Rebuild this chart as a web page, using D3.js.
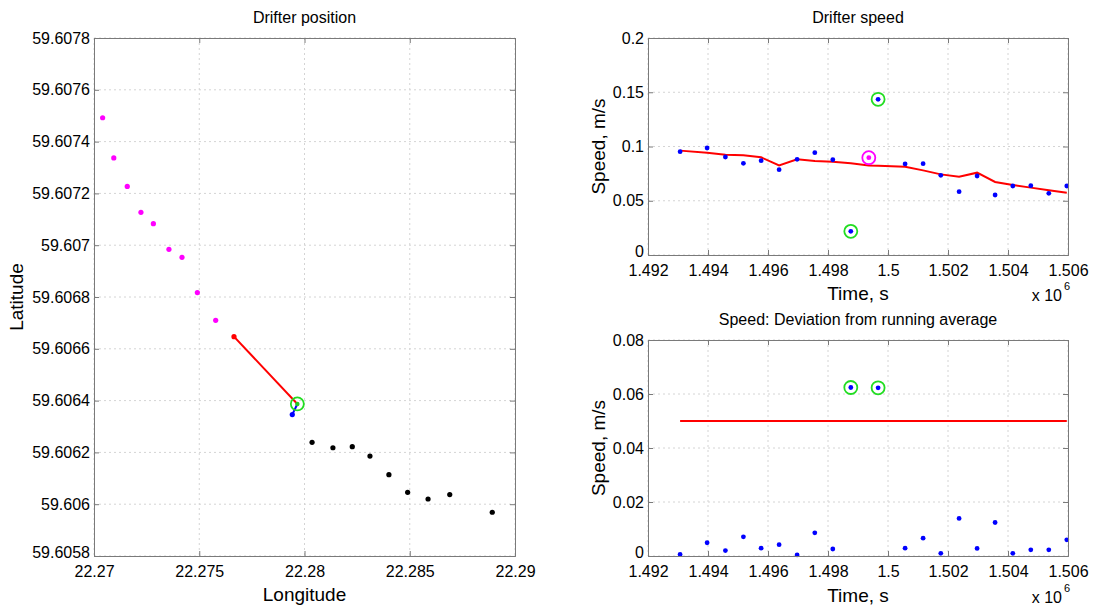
<!DOCTYPE html>
<html>
<head>
<meta charset="utf-8">
<script src="https://cdn.jsdelivr.net/npm/d3@7"></script>
<style>
  body { margin: 0; background: #fff; }
  svg { display: block; font-family: "Liberation Sans", Arial, sans-serif; }
  .tick text { font-size: 16px; fill: #000; }
</style>
</head>
<body>
<div id="chart"></div>
<script>
// ---- data ----
// drifter positions before the jump (magenta) and after it (black)
const prevLon = [22.27041, 22.27094, 22.27158, 22.27223, 22.27282, 22.27356, 22.27418, 22.27491, 22.27578];
const prevLat = [59.607492, 59.607337, 59.607227, 59.607127, 59.607083, 59.606984, 59.606953, 59.606817, 59.606710];
const nextLon = [22.28036, 22.28135, 22.28227, 22.28311, 22.28401, 22.28490, 22.28587, 22.28690, 22.28892];
const nextLat = [59.606239, 59.606218, 59.606222, 59.606186, 59.606114, 59.606046, 59.606020, 59.606037, 59.605969];
// red jump segment, flagged fix (green) and the blue fix next to it
const jumpLon = [22.27665, 22.27966];
const jumpLat = [59.606647, 59.606387];
const blueLon = [22.27966, 22.27942];
const blueLat = [59.606387, 59.606346];

// speed time series
const times = [1493070, 1493970, 1494580, 1495180, 1495770, 1496370, 1496970, 1497560, 1498160, 1498760, 1499360,
               1499670, 1500570, 1501170, 1501760, 1502370, 1502970, 1503570, 1504160, 1504760, 1505360, 1505960];
const speed = [0.0952, 0.0986, 0.0903, 0.0845, 0.0869, 0.0786, 0.0882, 0.0943, 0.0878, 0.0218, 0.0897,
               0.1435, 0.0839, 0.0842, 0.0734, 0.0584, 0.0728, 0.0553, 0.0636, 0.0639, 0.0568, 0.0636];
const runAvg = [0.0962, 0.0943, 0.0925, 0.0919, 0.0900, 0.0826, 0.0882, 0.0866, 0.0860, 0.0845, 0.0826,
                0.0822, 0.0814, 0.0780, 0.0743, 0.0722, 0.0759, 0.0673, 0.0645, 0.0621, 0.0596, 0.0574];
const flagged = [9, 11];   // green circles
const filled = [10];       // magenta circle

// deviation from running average
const devTimes = [1493070, 1493970, 1494580, 1495180, 1495770, 1496370, 1496970, 1497560, 1498160, 1498760,
                  1499670, 1500570, 1501170, 1501760, 1502370, 1502970, 1503570, 1504160, 1504760, 1505360, 1505960];
const deviation = [0.0006, 0.0049, 0.0020, 0.0071, 0.0029, 0.0042, 0.0004, 0.0086, 0.0026, 0.0624,
                   0.0623, 0.0029, 0.0066, 0.0010, 0.0139, 0.0028, 0.0124, 0.0010, 0.0023, 0.0023, 0.0060];
const devFlagged = [9, 10];
const threshold = 0.05;

// ticks
const lonTicks = [22.27, 22.275, 22.28, 22.285, 22.29];
const latTicks = [59.6058, 59.606, 59.6062, 59.6064, 59.6066, 59.6068, 59.607, 59.6072, 59.6074, 59.6076, 59.6078];
const timeTicks = [1492000, 1494000, 1496000, 1498000, 1500000, 1502000, 1504000, 1506000];
const speedTicks = [0, 0.05, 0.1, 0.15, 0.2];
const devTicks = [0, 0.02, 0.04, 0.06, 0.08];

const width = 1096;
const height = 606;
const axisColor = "#7a7a7a";
const gridColor = "#d4d4d4";

const svg = d3.select("#chart")
    .append("svg")
    .attr("width", width)
    .attr("height", height);

svg.append("rect").attr("width", width).attr("height", height).attr("fill", "#fff");

// draws grid, box and ticks of one MATLAB-style axes
const makeAxes = (box, xScale, yScale, xTicks, yTicks, xFmt, yFmt) => {
    const g = svg.append("g");
    const grid = g.append("g")
        .attr("stroke", gridColor)
        .attr("stroke-dasharray", "2,3")
        .attr("stroke-width", 1);
    xTicks.forEach(t => grid.append("line")
        .attr("x1", xScale(t)).attr("x2", xScale(t))
        .attr("y1", box.y0).attr("y2", box.y1));
    yTicks.forEach(t => grid.append("line")
        .attr("x1", box.x0).attr("x2", box.x1)
        .attr("y1", yScale(t)).attr("y2", yScale(t)));
    const marks = svg.append("g");
    return { g, marks, draw: () => {
        const a = svg.append("g");
        a.append("g").attr("transform", `translate(0,${box.y1})`)
            .call(d3.axisBottom(xScale).tickValues(xTicks).tickFormat(xFmt).tickSize(-5).tickPadding(10));
        a.append("g").attr("transform", `translate(0,${box.y0})`)
            .call(d3.axisTop(xScale).tickValues(xTicks).tickFormat("").tickSize(-5));
        const left = a.append("g").attr("transform", `translate(${box.x0},0)`)
            .call(d3.axisLeft(yScale).tickValues(yTicks).tickFormat(yFmt).tickSize(-5).tickPadding(4));
        // lowest y label sits a little higher so it clears the x labels
        left.select(".tick text").attr("dy", "0.1em");
        a.append("g").attr("transform", `translate(${box.x1},0)`)
            .call(d3.axisRight(yScale).tickValues(yTicks).tickFormat("").tickSize(-5));
        a.selectAll(".domain").attr("stroke", axisColor);
        a.selectAll(".tick line").attr("stroke", axisColor);
        a.selectAll(".tick text").attr("fill", "#000").style("font-size", "16px");
    }};
};

const label = (x, y, txt, size, rotate) => {
    const t = svg.append("text")
        .attr("x", x).attr("y", y)
        .attr("text-anchor", "middle")
        .attr("dominant-baseline", "central")
        .style("font-size", size + "px")
        .text(txt);
    if (rotate) t.attr("transform", `rotate(-90,${x},${y})`);
};

const exponent = (xRight, y) => {
    svg.append("text").attr("x", xRight).attr("y", y + 6)
        .attr("text-anchor", "end").style("font-size", "16px").text("x 10");
    svg.append("text").attr("x", xRight + 2).attr("y", y - 5)
        .style("font-size", "11px").text("6");
};

// ---------- Drifter position ----------
const posBox = { x0: 94, x1: 515, y0: 38, y1: 556 };
const lonScale = d3.scaleLinear().domain([22.27, 22.29]).range([posBox.x0, posBox.x1]);
const latScale = d3.scaleLinear().domain([59.6058, 59.6078]).range([posBox.y1, posBox.y0]);
const pos = makeAxes(posBox, lonScale, latScale, lonTicks, latTicks, d3.format(".3~f"), d3.format(".4~f"));

const posLine = d3.line().x(d => lonScale(d[0])).y(d => latScale(d[1]));
pos.marks.append("path")
    .attr("d", posLine(d3.zip(jumpLon, jumpLat)))
    .attr("fill", "none").attr("stroke", "#ff0000").attr("stroke-width", 2);
pos.marks.append("path")
    .attr("d", posLine(d3.zip(blueLon, blueLat)))
    .attr("fill", "none").attr("stroke", "#0000ff").attr("stroke-width", 2);
pos.marks.selectAll(".prev").data(d3.zip(prevLon, prevLat)).join("circle")
    .attr("cx", d => lonScale(d[0])).attr("cy", d => latScale(d[1]))
    .attr("r", 2.6).attr("fill", "#ff00ff");
pos.marks.selectAll(".next").data(d3.zip(nextLon, nextLat)).join("circle")
    .attr("cx", d => lonScale(d[0])).attr("cy", d => latScale(d[1]))
    .attr("r", 2.6).attr("fill", "#000");
pos.marks.append("circle")
    .attr("cx", lonScale(jumpLon[0])).attr("cy", latScale(jumpLat[0]))
    .attr("r", 2.6).attr("fill", "#ff0000");
pos.marks.append("circle")
    .attr("cx", lonScale(blueLon[1])).attr("cy", latScale(blueLat[1]))
    .attr("r", 2.6).attr("fill", "#0000ff");
pos.marks.append("circle")
    .attr("cx", lonScale(jumpLon[1])).attr("cy", latScale(jumpLat[1]))
    .attr("r", 2.2).attr("fill", "#22cc22");
pos.marks.append("circle")
    .attr("cx", lonScale(jumpLon[1])).attr("cy", latScale(jumpLat[1]))
    .attr("r", 6.5).attr("fill", "none").attr("stroke", "#22dd22").attr("stroke-width", 1.8);
pos.draw();

label((posBox.x0 + posBox.x1) / 2, 17, "Drifter position", 16);
label((posBox.x0 + posBox.x1) / 2, 594, "Longitude", 19);
label(16, (posBox.y0 + posBox.y1) / 2, "Latitude", 19, true);

// ---------- Drifter speed ----------
const spdBox = { x0: 648, x1: 1068, y0: 38, y1: 255 };
const tScale = d3.scaleLinear().domain([1492000, 1506000]).range([spdBox.x0, spdBox.x1]);
const spdScale = d3.scaleLinear().domain([0, 0.2]).range([spdBox.y1, spdBox.y0]);
const timeFmt = d => d3.format(".4~f")(d / 1e6);
const spd = makeAxes(spdBox, tScale, spdScale, timeTicks, speedTicks, timeFmt, d3.format(".2~f"));

spd.marks.append("path")
    .datum(d3.zip(times, runAvg))
    .attr("d", d3.line().x(d => tScale(d[0])).y(d => spdScale(d[1])))
    .attr("fill", "none").attr("stroke", "#ff0000").attr("stroke-width", 2);
spd.marks.selectAll(".pt").data(d3.zip(times, speed)).join("circle")
    .attr("cx", d => tScale(d[0])).attr("cy", d => spdScale(d[1]))
    .attr("r", 2.4).attr("fill", (d, i) => filled.includes(i) ? "#ff00ff" : "#0000ff");
spd.marks.selectAll(".ring").data(flagged.concat(filled)).join("circle")
    .attr("cx", i => tScale(times[i])).attr("cy", i => spdScale(speed[i]))
    .attr("r", 6.5).attr("fill", "none")
    .attr("stroke", i => filled.includes(i) ? "#ff00ff" : "#22dd22").attr("stroke-width", 1.8);
spd.draw();

label((spdBox.x0 + spdBox.x1) / 2, 17, "Drifter speed", 16);
label((spdBox.x0 + spdBox.x1) / 2, 293, "Time, s", 19);
label(598, (spdBox.y0 + spdBox.y1) / 2, "Speed, m/s", 19, true);
exponent(1062, 295);

// ---------- Deviation ----------
const devBox = { x0: 648, x1: 1068, y0: 340, y1: 556 };
const tScale2 = d3.scaleLinear().domain([1492000, 1506000]).range([devBox.x0, devBox.x1]);
const devScale = d3.scaleLinear().domain([0, 0.08]).range([devBox.y1, devBox.y0]);
const dev = makeAxes(devBox, tScale2, devScale, timeTicks, devTicks, timeFmt, d3.format(".2~f"));

dev.marks.append("line")
    .attr("x1", tScale2(devTimes[0])).attr("x2", tScale2(devTimes[devTimes.length - 1]))
    .attr("y1", devScale(threshold)).attr("y2", devScale(threshold))
    .attr("stroke", "#ff0000").attr("stroke-width", 2);
dev.marks.selectAll(".pt").data(d3.zip(devTimes, deviation)).join("circle")
    .attr("cx", d => tScale2(d[0])).attr("cy", d => devScale(d[1]))
    .attr("r", 2.4).attr("fill", "#0000ff");
dev.marks.selectAll(".ring").data(devFlagged).join("circle")
    .attr("cx", i => tScale2(devTimes[i])).attr("cy", i => devScale(deviation[i]))
    .attr("r", 6.5).attr("fill", "none").attr("stroke", "#22dd22").attr("stroke-width", 1.8);
dev.draw();

label((devBox.x0 + devBox.x1) / 2, 319, "Speed: Deviation from running average", 16);
label((devBox.x0 + devBox.x1) / 2, 595, "Time, s", 19);
label(598, (devBox.y0 + devBox.y1) / 2, "Speed, m/s", 19, true);
exponent(1062, 597);
</script>
</body>
</html>
